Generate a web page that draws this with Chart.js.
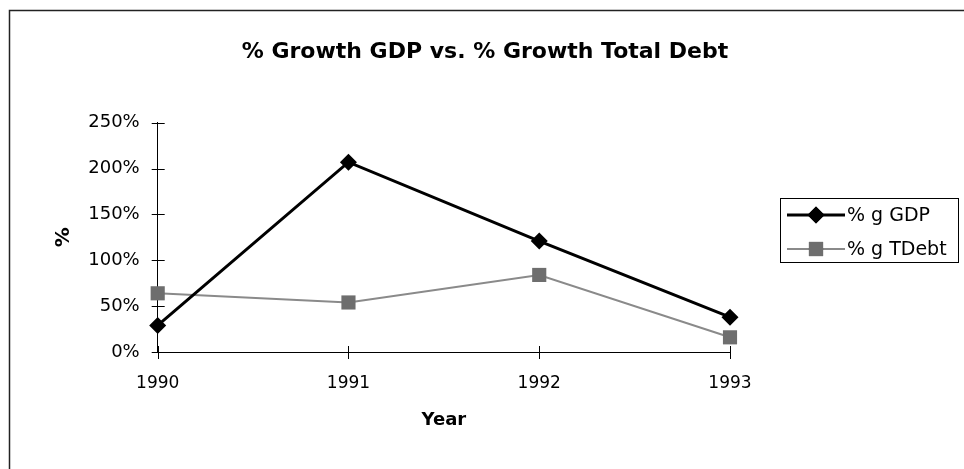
<!DOCTYPE html>
<html>
<head>
<meta charset="utf-8">
<script src="https://cdn.jsdelivr.net/npm/chart.js@4/dist/chart.umd.min.js"></script>
<style>
    body { margin: 0; background: #ffffff; }
    #wrap { width: 964px; height: 469px; }
</style>
</head>
<body>
<div id="wrap">
    <canvas id="growthChart" width="964" height="469"></canvas>
</div>
<script>
const years = ["1990", "1991", "1992", "1993"];
const gdpGrowth = [29, 207, 121, 38];
const debtGrowth = [64, 54, 84, 16];
const yTicks = [0, 50, 100, 150, 200, 250];

const seriesNames = ["% g GDP", "% g TDebt"];
const chartTitle = "% Growth GDP vs. % Growth Total Debt";

const fontName = "'DejaVu Sans', 'Liberation Sans', Arial, sans-serif";

// frame of the original sheet: only the top and left edges show
const framePlugin = {
    id: "frame",
    beforeDraw(chart) {
        const ctx = chart.ctx;
        ctx.save();
        ctx.strokeStyle = "#222222";
        ctx.lineWidth = 1.5;
        ctx.beginPath();
        ctx.moveTo(9.5, 469);
        ctx.lineTo(9.5, 10.5);
        ctx.lineTo(964, 10.5);
        ctx.stroke();
        ctx.restore();
    }
};

// title sits centred on the whole sheet, not on the plot
const sheetTitle = {
    id: "sheetTitle",
    afterDraw(chart) {
        const ctx = chart.ctx;
        ctx.save();
        ctx.fillStyle = "#000000";
        ctx.font = "bold 22px " + fontName;
        ctx.textAlign = "center";
        ctx.textBaseline = "middle";
        ctx.fillText(chartTitle, 485, 52);
        ctx.restore();
    }
};

// tick marks that cross the axis lines
const crossTicks = {
    id: "crossTicks",
    beforeDatasetsDraw(chart) {
        const ctx = chart.ctx;
        const x = chart.scales.x;
        const y = chart.scales.y;
        const area = chart.chartArea;

        ctx.save();
        ctx.strokeStyle = "#000000";
        ctx.lineWidth = 1;
        ctx.beginPath();

        y.ticks.forEach((t, i) => {
            const py = Math.round(y.getPixelForTick(i)) + 0.5;
            ctx.moveTo(area.left - 6, py);
            ctx.lineTo(area.left + 7, py);
        });

        x.ticks.forEach((t, i) => {
            const px = Math.round(x.getPixelForTick(i)) + 0.5;
            ctx.moveTo(px, area.bottom - 6);
            ctx.lineTo(px, area.bottom + 7);
        });

        ctx.stroke();
        ctx.restore();
    }
};

// boxed legend to the right, line + marker like the spreadsheet
const sideLegend = {
    id: "sideLegend",
    afterDraw(chart) {
        const ctx = chart.ctx;
        const boxX = 780.5;
        const boxY = 198.5;
        const boxW = 178;
        const boxH = 64;

        ctx.save();
        ctx.strokeStyle = "#000000";
        ctx.lineWidth = 1;
        ctx.strokeRect(boxX, boxY, boxW, boxH);

        chart.data.datasets.forEach((ds, i) => {
            const rowY = 215 + i * 34;

            ctx.strokeStyle = ds.borderColor;
            ctx.lineWidth = ds.borderWidth;
            ctx.beginPath();
            ctx.moveTo(787, rowY);
            ctx.lineTo(845, rowY);
            ctx.stroke();

            Chart.helpers.drawPoint(ctx, {
                pointStyle: ds.pointStyle,
                radius: ds.pointRadius,
                borderWidth: 0
            }, 816, rowY);
            ctx.fillStyle = ds.pointBackgroundColor;
            ctx.fill();

            ctx.fillStyle = "#000000";
            ctx.font = "19px " + fontName;
            ctx.textBaseline = "middle";
            ctx.textAlign = "left";
            ctx.fillText(ds.label, 847, rowY + 1);
        });

        ctx.restore();
    }
};

new Chart(document.getElementById("growthChart"), {
    type: "line",

    data: {
        labels: years,

        datasets: [
            {
                label: seriesNames[0],
                data: gdpGrowth,
                borderColor: "#000000",
                borderWidth: 3,
                pointStyle: "rectRot",
                pointRadius: 8.5,
                pointHoverRadius: 8.5,
                pointBackgroundColor: "#000000",
                pointBorderColor: "#000000",
                pointBorderWidth: 0,
                tension: 0,
                clip: false
            },
            {
                label: seriesNames[1],
                data: debtGrowth,
                borderColor: "#8a8a8a",
                borderWidth: 2,
                pointStyle: "rect",
                pointRadius: 10,
                pointHoverRadius: 10,
                pointBackgroundColor: "#6e6e6e",
                pointBorderColor: "#6e6e6e",
                pointBorderWidth: 0,
                tension: 0,
                clip: false
            }
        ]
    },

    options: {
        responsive: false,
        animation: false,
        events: [],

        layout: {
            padding: { left: 40, right: 234, top: 122.7, bottom: 17 }
        },

        plugins: {
            legend: { display: false },
            tooltip: { enabled: false },
            title: { display: false }
        },

        scales: {
            x: {
                offset: false,
                grid: { display: false, drawTicks: false },
                border: { display: true, color: "#000000", width: 1 },
                ticks: {
                    color: "#000000",
                    padding: 21,
                    font: { family: fontName, size: 17 }
                },
                title: {
                    display: true,
                    text: "Year",
                    color: "#000000",
                    font: { family: fontName, size: 18, weight: "bold" },
                    padding: { top: 0, bottom: 21 }
                },
                afterFit(scale) {
                    scale.height = 100;
                }
            },

            y: {
                min: yTicks[0],
                max: yTicks[yTicks.length - 1],
                grid: { display: false, drawTicks: false },
                border: { display: true, color: "#000000", width: 1 },
                afterBuildTicks(scale) {
                    scale.ticks = yTicks.map(v => ({ value: v }));
                },
                ticks: {
                    color: "#000000",
                    padding: 18,
                    font: { family: fontName, size: 18 },
                    callback: v => v + "%"
                },
                title: {
                    display: true,
                    text: "%",
                    color: "#000000",
                    font: { family: fontName, size: 20, weight: "bold" },
                    padding: { top: 12, bottom: 0 }
                },
                afterFit(scale) {
                    scale.width = 117.7;
                }
            }
        }
    },

    plugins: [framePlugin, sheetTitle, crossTicks, sideLegend]
});
</script>
</body>
</html>
